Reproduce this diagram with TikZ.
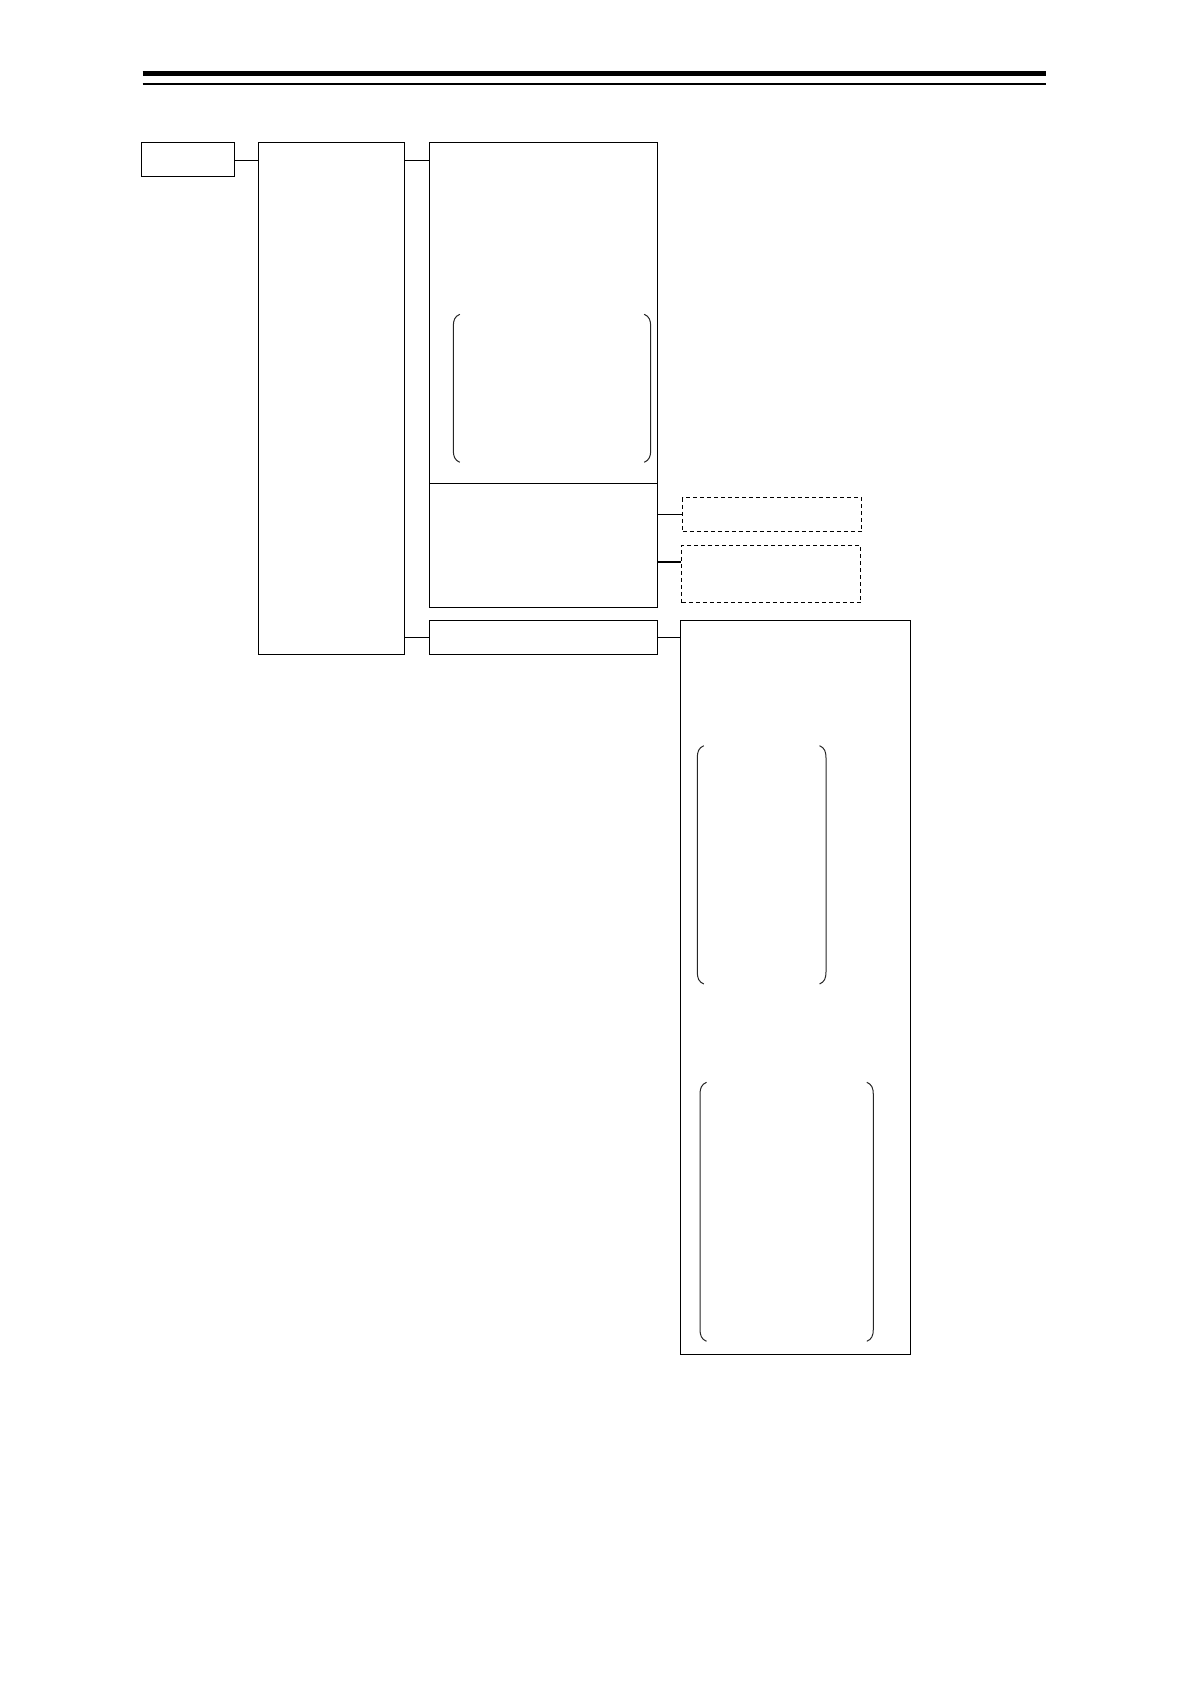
\documentclass[tikz,border=0pt]{standalone}
\begin{document}
\begin{tikzpicture}[x=1pt,y=-1pt,
  box/.style={draw,line width=1.15pt,rectangle,inner sep=0pt,anchor=north west},
  dbox/.style={box,dash pattern=on 4pt off 3pt,line width=1.05pt},
  conn/.style={line width=1.1pt},
  brk/.style={line width=1pt,draw=black!85}]
\useasboundingbox (0,0) rectangle (1191,1684);
% header rules
\draw[line width=5pt] (142.7,73.5) -- (1046,73.5);
\draw[line width=2pt] (142.7,84) -- (1046,84);
% boxes
\node[box,minimum width=92.4pt,minimum height=34pt] (A) at (141.3,142.3) {};
\node[box,minimum width=146pt,minimum height=511.7pt] (B) at (258.3,142.3) {};
\node[box,minimum width=228pt,minimum height=340.7pt] (C1) at (429.3,142.3) {};
\node[box,minimum width=228pt,minimum height=124pt] (C2) at (429.3,483) {};
\node[dbox,minimum width=179pt,minimum height=34pt] (D1) at (682.3,497.3) {};
\node[dbox,minimum width=179pt,minimum height=57.3pt] (D2) at (681.3,544.7) {};
\node[box,minimum width=228pt,minimum height=33.7pt] (E) at (429,620.3) {};
\node[box,minimum width=230pt,minimum height=733.7pt] (F) at (680.3,620.3) {};
% connectors
\coordinate (d2c) at ([yshift=-17.3pt]D2.north west);
\draw[conn] ([yshift=-18pt]A.north east) -- ([yshift=-18pt]A.north east -| B.west);
\draw[conn] ([yshift=-18pt]B.north east) -- ([yshift=-18pt]C1.north west);
\draw[conn] (D1.west -| C2.east) -- (D1.west);
\draw[conn] (d2c -| C2.east) -- (d2c);
\draw[conn] (E.west -| B.east) -- (E.west);
\draw[conn] (E.east) -- (E.east -| F.west);
% brackets
\foreach \l/\r/\t/\b in {453.3/650.7/314.3/462.3, 697.3/826/745.7/984, 700/873.3/1082.3/1341.3}{
  \draw[brk] (\l+6.5,\t) .. controls (\l+1.5,\t+2) and (\l,\t+6) .. (\l,\t+12) -- (\l,\b-12) .. controls (\l,\b-6) and (\l+1.5,\b-2) .. (\l+6.5,\b);
  \draw[brk] (\r-6.5,\t) .. controls (\r-1.5,\t+2) and (\r,\t+6) .. (\r,\t+12) -- (\r,\b-12) .. controls (\r,\b-6) and (\r-1.5,\b-2) .. (\r-6.5,\b);
}
\end{tikzpicture}
\end{document}
